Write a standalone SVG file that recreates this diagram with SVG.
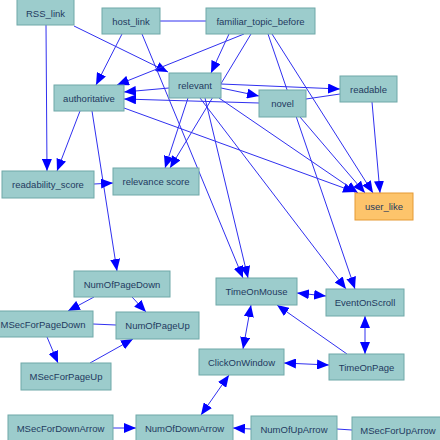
<svg xmlns="http://www.w3.org/2000/svg" width="440" height="440" viewBox="0 0 440 440">
<defs>
<style>
.n rect{fill:#9ccccc;stroke:#6fa8a8;stroke-width:1}
.u rect{fill:#fdc46b;stroke:#e59a35;stroke-width:1}
text{font-family:"Liberation Sans",Arial,sans-serif;font-size:9.5px;fill:#1f3a5f;text-anchor:middle;dominant-baseline:central}
.e line{stroke:#3030f0;stroke-width:1;fill:none}
.a{marker-end:url(#ah)}
.b{marker-end:url(#ah);marker-start:url(#ahs)}
</style>
<marker id="ah" markerUnits="userSpaceOnUse" markerWidth="12" markerHeight="10" viewBox="0 0 12 10" refX="12" refY="5" orient="auto"><path d="M0,0 L12,5 L0,10 Z" fill="#0000ff"/></marker>
<marker id="ahs" markerUnits="userSpaceOnUse" markerWidth="12" markerHeight="10" viewBox="0 0 12 10" refX="12" refY="5" orient="auto-start-reverse"><path d="M0,0 L12,5 L0,10 Z" fill="#0000ff"/></marker>
</defs>
<rect width="440" height="440" fill="#ffffff"/>
<g class="e" id="edges">
<line x1="160" y1="21" x2="206" y2="21"/>
<line class="a" x1="46" y1="25" x2="47" y2="171"/>
<line class="a" x1="74" y1="26" x2="168" y2="72"/>
<line class="a" x1="122" y1="34" x2="96" y2="85"/>
<line class="a" x1="244" y1="34" x2="117" y2="85"/>
<line class="a" x1="229" y1="34" x2="211" y2="73"/>
<line class="a" x1="169" y1="88" x2="124" y2="92"/>
<line class="a" x1="259" y1="103" x2="124" y2="99"/>
<line class="a" x1="221" y1="88" x2="259" y2="96"/>
<line class="a" x1="221" y1="84" x2="340" y2="89"/>
<line x1="306" y1="99" x2="340" y2="94"/>
<line class="a" x1="80" y1="111" x2="57" y2="171"/>
<line class="a" x1="92" y1="111" x2="117" y2="271"/>
<line class="a" x1="124" y1="108" x2="355" y2="192"/>
<line class="a" x1="219" y1="98" x2="358" y2="193"/>
<line class="a" x1="300" y1="117" x2="365" y2="193"/>
<line class="a" x1="272" y1="34" x2="373" y2="193"/>
<line class="a" x1="372" y1="102" x2="380" y2="193"/>
<line class="a" x1="188" y1="98" x2="165" y2="168"/>
<line class="a" x1="251" y1="34" x2="170" y2="168"/>
<line class="a" x1="94" y1="184" x2="113" y2="183"/>
<line class="a" x1="142" y1="34" x2="243" y2="278"/>
<line class="a" x1="205" y1="98" x2="248" y2="278"/>
<line class="a" x1="200" y1="98" x2="346" y2="289"/>
<line class="a" x1="268" y1="34" x2="355" y2="289"/>
<line class="a" x1="94" y1="297" x2="68" y2="311"/>
<line class="a" x1="132" y1="297" x2="146" y2="312"/>
<line x1="93" y1="324" x2="116" y2="325"/>
<line class="a" x1="47" y1="337" x2="58" y2="363"/>
<line class="a" x1="90" y1="363" x2="133" y2="339"/>
<line class="b" x1="297" y1="293" x2="326" y2="296"/>
<line class="a" x1="347" y1="354" x2="277" y2="305"/>
<line class="b" x1="365" y1="316" x2="365" y2="354"/>
<line class="b" x1="251" y1="305" x2="243" y2="349"/>
<line class="b" x1="284" y1="363" x2="329" y2="365"/>
<line class="b" x1="229" y1="375" x2="201" y2="415"/>
<line class="a" x1="113" y1="428" x2="136" y2="428"/>
<line class="a" x1="251" y1="429" x2="233" y2="428"/>
<line x1="337" y1="429" x2="352" y2="430"/>
</g>
<g id="RSS_link" class="n"><rect x="17" y="-1" width="57" height="26"/><text x="45.5" y="13">RSS_link</text></g>
<g id="host_link" class="n"><rect x="102" y="8" width="58" height="26"/><text x="131" y="21">host_link</text></g>
<g id="familiar_topic_before" class="n"><rect x="206" y="8" width="109" height="26"/><text x="260.5" y="21">familiar_topic_before</text></g>
<g id="authoritative" class="n"><rect x="54" y="85" width="70" height="26"/><text x="89" y="98">authoritative</text></g>
<g id="relevant" class="n"><rect x="169" y="73" width="52" height="25"/><text x="195" y="85.5">relevant</text></g>
<g id="novel" class="n"><rect x="259" y="90" width="47" height="27"/><text x="282.5" y="103.5">novel</text></g>
<g id="readable" class="n"><rect x="340" y="76" width="57" height="26"/><text x="368.5" y="89">readable</text></g>
<g id="readability_score" class="n"><rect x="2" y="171" width="92" height="27"/><text x="48" y="184.5">readability_score</text></g>
<g id="relevance_score" class="n"><rect x="113" y="168" width="86" height="27"/><text x="156" y="181.5">relevance score</text></g>
<g id="user_like" class="u"><rect x="355" y="193" width="58" height="27"/><text x="384" y="206.5">user_like</text></g>
<g id="NumOfPageDown" class="n"><rect x="74" y="271" width="96" height="26"/><text x="122" y="284">NumOfPageDown</text></g>
<g id="TimeOnMouse" class="n"><rect x="216" y="278" width="81" height="27"/><text x="256.5" y="291.5">TimeOnMouse</text></g>
<g id="EventOnScroll" class="n"><rect x="326" y="289" width="78" height="27"/><text x="365" y="302.5">EventOnScroll</text></g>
<g id="MSecForPageDown" class="n"><rect x="-4" y="311" width="97" height="26"/><text x="43" y="324">MSecForPageDown</text></g>
<g id="NumOfPageUp" class="n"><rect x="116" y="312" width="83" height="27"/><text x="157.5" y="325.5">NumOfPageUp</text></g>
<g id="MSecForPageUp" class="n"><rect x="21" y="363" width="90" height="27"/><text x="66" y="376.5">MSecForPageUp</text></g>
<g id="ClickOnWindow" class="n"><rect x="199" y="349" width="85" height="26"/><text x="241.5" y="362">ClickOnWindow</text></g>
<g id="TimeOnPage" class="n"><rect x="329" y="354" width="75" height="26"/><text x="366.5" y="367">TimeOnPage</text></g>
<g id="MSecForDownArrow" class="n"><rect x="8" y="415" width="105" height="26"/><text x="60.5" y="428">MSecForDownArrow</text></g>
<g id="NumOfDownArrow" class="n"><rect x="136" y="415" width="97" height="26"/><text x="184.5" y="428">NumOfDownArrow</text></g>
<g id="NumOfUpArrow" class="n"><rect x="251" y="416" width="86" height="26"/><text x="294" y="429">NumOfUpArrow</text></g>
<g id="MSecForUpArrow" class="n"><rect x="352" y="417" width="92" height="26"/><text x="398" y="430">MSecForUpArrow</text></g>
</svg>
